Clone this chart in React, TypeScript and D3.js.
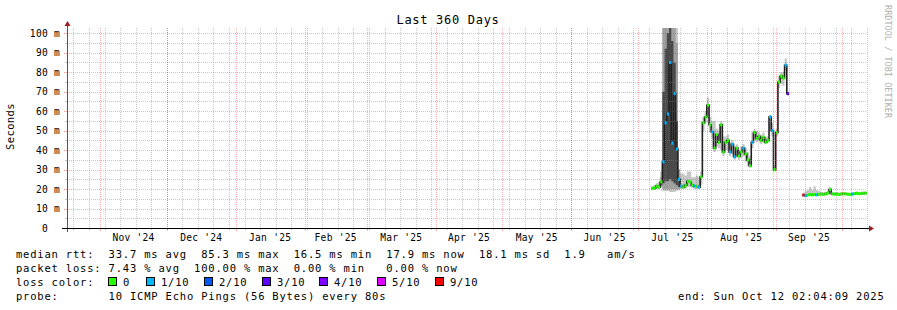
import React from 'react';
import * as d3 from 'd3';

// ---------- data ----------
const START = new Date(Date.UTC(2024, 9, 17, 2, 4, 9));
const END = new Date(Date.UTC(2025, 9, 12, 2, 4, 9));
const FIRST_DAY = '2025-07-07';
const LAST_DAY = '2025-10-11';

const yTicks = [0, 10, 20, 30, 40, 50, 60, 70, 80, 90, 100];
const yTickLabels = ['0', '10 m', '20 m', '30 m', '40 m', '50 m', '60 m', '70 m', '80 m', '90 m', '100 m'];
const yMinorTicks = [5, 15, 25, 35, 45, 55, 65, 75, 85, 95];
const monthLabels = ["Nov '24", "Dec '24", "Jan '25", "Feb '25", "Mar '25", "Apr '25", "May '25", "Jun '25", "Jul '25", "Aug '25", "Sep '25"];
const monthStarts = ['2024-11-01', '2024-12-01', '2025-01-01', '2025-02-01', '2025-03-01', '2025-04-01', '2025-05-01', '2025-06-01', '2025-07-01', '2025-08-01', '2025-09-01'];

// daily median rtt (ms), Jul 7 .. Oct 11 2025
const median: (number | null)[] = [
  // Jul 7-31
  20.4, 20.5, 21.5, 21, 23.7, 34, 54, 58.5, 85, 43.6, 69, 40.5, 25, 21.5, 21, 22, 24, 23.5, 22, 21.5, 21.5, 21, 26.3, 54, 57,
  // Aug
  63, 53, 49.4, 41, 48, 44, 53, 39, 44, 45, 39, 43, 36.6, 41, 37, 39, 41, 38, 35, 32, 44, 49, 46, 47, 45, 46.5, 44, 45, 57, 50, 30,
  // Sep
  49, 75, 78, 77, 83.6, 69, null, null, null, null, null, null,
  16.9, 16.6, 17, 17.2, 17, 17.2, 17, 17.3, 17.4, 17.2, 17.5, 18, 19.8, 17.5, 17.3, 17.5, 17.2, 17.4,
  // Oct 1-11
  17.6, 17.5, 17.3, 17.2, 17.4, 17.6, 17.8, 17.6, 17.7, 17.8, 17.9,
];
const smokeLo: (number | null)[] = [
  19.5, 19.5, 20, 20, 21, 19, 19, 19, 18.5, 18.5, 18.5, 19, 19.5, 20, 20, 20.5, 21, 21, 20.5, 20, 20, 20, 22, 50, 54,
  58, 49, 46, 39, 42, 41, 40, 37, 40, 40, 37, 38, 35, 37, 35, 36, 37, 34, 32, 31, 41, 45, 44, 45, 43, 44, 43, 44, 50, 47, 29,
  47, 72, 74, 73, 81, 68, null, null, null, null, null, null,
  16.5, 16.2, 16.5, 16.6, 16.5, 16.6, 16.5, 16.8, 16.8, 16.7, 17, 17.3, 17.5, 17, 16.8, 17, 16.7, 16.9,
  17.1, 17, 16.8, 16.7, 16.9, 17.1, 17.3, 17.1, 17.2, 17.3, 17.4,
];
const smokeHi: (number | null)[] = [
  21.5, 22, 23, 23.5, 29, 110, 110, 110, 110, 110, 110, 110, 30, 28, 28, 27, 29, 29, 26, 26, 27, 26, 29, 57, 60,
  67, 57, 55, 55, 51, 50, 55, 47, 47, 48, 44, 45, 42, 43, 40, 42, 43, 41, 39, 37, 49, 51, 50, 49, 48, 49, 47, 47, 58, 54, 32,
  51, 78, 80, 80, 87, 70, null, null, null, null, null, null,
  18, 19, 19.5, 21, 19.5, 21.5, 19.5, 19, 18.5, 18.5, 18.5, 19, 21, 18.5, 18.3, 18.5, 18.2, 18.4,
  18.5, 18.4, 18.2, 18.1, 18.3, 18.5, 18.7, 18.5, 18.6, 18.7, 18.8,
];
// loss index into lossLabels
const lossLevel: number[] = [
  0, 0, 0, 0, 0, 1, 1, 1, 1, 1, 1, 1, 1, 1, 0, 0, 0, 0, 0, 1, 0, 1, 0, 0, 0,
  0, 0, 1, 0, 0, 0, 0, 0, 0, 0, 1, 1, 1, 0, 0, 0, 1, 0, 0, 0, 1, 0, 0, 0, 0, 0, 0, 0, 1, 1, 0,
  0, 0, 0, 0, 1, 3, 0, 0, 0, 0, 0, 0,
  6, 1, 0, 0, 0, 0, 1, 0, 0, 0, 0, 0, 0, 0, 0, 0, 0, 0,
  0, 0, 0, 0, 1, 0, 0, 0, 0, 0, 0,
];

// heavy smoke during the July spike
const spikeDays = ['2025-07-11', '2025-07-12', '2025-07-13', '2025-07-14', '2025-07-15', '2025-07-16', '2025-07-17', '2025-07-18', '2025-07-19'];
const spikeMidLo = [21, 20, 20, 20, 20, 20, 20, 20, 20];
const spikeMidHi = [26, 110, 110, 110, 110, 110, 110, 95, 30];
const spikeCoreLo = [22, 23, 24, 24, 25, 24, 23, 22, 21];
const spikeCoreHi = [24, 70, 92, 100, 104, 96, 85, 55, 24];

const lossLabels = ['0', '1/10', '2/10', '3/10', '4/10', '5/10', '9/10'];
const lossColors = ['#26ff00', '#00b8ff', '#0059ff', '#5e00ff', '#7e00ff', '#dd00ff', '#ff0000'];

const legendRtt = 'median rtt:  33.7 ms avg  85.3 ms max  16.5 ms min  17.9 ms now  18.1 ms sd  1.9   am/s';
const legendLoss = 'packet loss: 7.43 % avg  100.00 % max  0.00 % min   0.00 % now';
const legendProbe = 'probe:       10 ICMP Echo Pings (56 Bytes) every 80s';
const legendEnd = 'end: Sun Oct 12 02:04:09 2025';

// ---------- chart ----------
const PL = 67, PR = 867, PT = 28, PB = 228;
const FONT = "'DejaVu Sans Mono', monospace";

const parse = (s: string) => new Date(s + 'T00:00:00Z');
const nb = (s: string) => s.replace(/ /g, '\u00A0');

type Seg = { t: Date; a: number; b: number };
function runs(dates: Date[], a: (number | null)[], b: (number | null)[]): Seg[][] {
  const out: Seg[][] = [];
  let cur: Seg[] = [];
  for (let i = 0; i < dates.length; i++) {
    const va = a[i], vb = b[i];
    if (va == null || vb == null) {
      if (cur.length) out.push(cur);
      cur = [];
      continue;
    }
    cur.push({ t: dates[i], a: va, b: vb });
    const na = a[i + 1];
    if (i + 1 >= dates.length || na == null) {
      cur.push({ t: d3.utcDay.offset(dates[i], 1), a: va, b: vb });
    }
  }
  if (cur.length) out.push(cur);
  return out;
}

export default function App() {
  const x = d3.scaleUtc().domain([START, END]).range([PL, PR]);
  const y = d3.scaleLinear().domain([0, 102.7]).range([PB, PT]);
  const days = d3.utcDay.range(parse(FIRST_DAY), d3.utcDay.offset(parse(LAST_DAY), 1));
  const sDays = spikeDays.map(parse);

  const area = d3.area<Seg>().x(d => x(d.t)).y0(d => y(d.a)).y1(d => y(d.b)).curve(d3.curveStepAfter);
  const line = d3.line<Seg>().x(d => x(d.t)).y(d => y(d.a)).curve(d3.curveStepAfter);

  const smokeRuns = runs(days, smokeLo, smokeHi);
  const midRuns = runs(sDays, spikeMidLo, spikeMidHi);
  const coreRuns = runs(sDays, spikeCoreLo, spikeCoreHi);
  const medRuns = runs(days, median, median);

  const months = d3.utcMonth.range(START, END);
  const weeks = d3.utcSunday.range(START, END);
  const px = (v: number) => Math.round(v) + 0.5;

  const majorGrid = 'rgba(255,0,0,0.32)';
  const minorGrid = 'rgba(128,128,128,0.45)';

  return (
    <svg width={897} height={310} style={{ position: 'absolute', left: 0, top: 0, background: '#fff' }} fontFamily={FONT}>
      <rect x={0} y={0} width={897} height={310} fill="#fff" />
      <defs>
        <clipPath id="plot">
          <rect x={PL} y={PT} width={PR - PL} height={PB - PT} />
        </clipPath>
      </defs>

      {/* data */}
      <g clipPath="url(#plot)">
        {smokeRuns.map((r, i) => <path key={'s' + i} d={area(r) || ''} fill="#c6c6c6" />)}
        {midRuns.map((r, i) => <path key={'m' + i} d={area(r) || ''} fill="#a0a0a0" />)}
        {coreRuns.map((r, i) => <path key={'c' + i} d={area(r) || ''} fill="#4a4a4a" />)}
        {medRuns.map((r, i) => <path key={'l' + i} d={line(r) || ''} fill="none" stroke="#202020" strokeWidth={1.6} />)}
        {days.map((d, i) => {
          const m = median[i];
          if (m == null) return null;
          const x0 = x(d);
          const x1 = x(d3.utcDay.offset(d, 1));
          return <rect key={'k' + i} x={x0} y={y(m) - 1.5} width={x1 - x0} height={3} fill={lossColors[lossLevel[i]]} />;
        })}
      </g>

      {/* grid */}
      <g strokeDasharray="1,1" strokeWidth={1}>
        {yMinorTicks.map(v => (
          <line key={'hm' + v} x1={PL} x2={PR} y1={px(y(v))} y2={px(y(v))} stroke={minorGrid} />
        ))}
        {weeks.map(w => (
          <line key={'vw' + w.getTime()} x1={px(x(w))} x2={px(x(w))} y1={PT} y2={PB} stroke={minorGrid} />
        ))}
        {yTicks.filter(v => v > 0).map(v => (
          <line key={'hM' + v} x1={PL} x2={PR} y1={px(y(v))} y2={px(y(v))} stroke={majorGrid} />
        ))}
        {months.map(m => (
          <line key={'vm' + m.getTime()} x1={px(x(m))} x2={px(x(m))} y1={PT} y2={PB} stroke={majorGrid} />
        ))}
      </g>
      {/* small ticks */}
      <g strokeWidth={1}>
        {yMinorTicks.map(v => (
          <line key={'tm' + v} x1={PL - 2} x2={PL} y1={px(y(v))} y2={px(y(v))} stroke={minorGrid} />
        ))}
        {yTicks.filter(v => v > 0).map(v => (
          <line key={'tM' + v} x1={PL - 3} x2={PL} y1={px(y(v))} y2={px(y(v))} stroke={majorGrid} />
        ))}
        {weeks.map(w => (
          <line key={'tw' + w.getTime()} x1={px(x(w))} x2={px(x(w))} y1={PB} y2={PB + 2} stroke={minorGrid} />
        ))}
        {months.map(m => (
          <line key={'tmo' + m.getTime()} x1={px(x(m))} x2={px(x(m))} y1={PB} y2={PB + 3} stroke={majorGrid} />
        ))}
      </g>

      {/* axes */}
      <line x1={PL + 0.5} x2={PL + 0.5} y1={PB + 4} y2={PT - 4} stroke="#555" strokeWidth={1} />
      <line x1={PL - 5} x2={PR + 3} y1={PB + 0.5} y2={PB + 0.5} stroke="#000" strokeWidth={1} />
      <polygon points={`${PL - 2.5},${PT - 2} ${PL + 3.5},${PT - 2} ${PL + 0.5},${PT - 7}`} fill="#9b1c1c" />
      <polygon points={`${PR + 2},${PB - 2.5} ${PR + 2},${PB + 3.5} ${PR + 7},${PB + 0.5}`} fill="#9b1c1c" />

      {/* y labels */}
      <g fontSize={9.6} fill="#000" style={{ letterSpacing: '0.25px' }}>
        {yTicks.map((v, i) => (
          <text key={'yl' + v} x={v === 0 ? 48 : 60} y={y(v) + 3.5} textAnchor="end">{nb(yTickLabels[i])}</text>
        ))}
      </g>
      {/* x labels */}
      <g fontSize={9.6} fill="#000" style={{ letterSpacing: '0.25px' }}>
        {monthStarts.map((s, i) => {
          const a = parse(s);
          const b = d3.utcMonth.offset(a, 1);
          const cx = (x(a) + x(b)) / 2;
          return <text key={'xl' + s} x={cx} y={241} textAnchor="middle">{nb(monthLabels[i])}</text>;
        })}
      </g>

      {/* title and side texts */}
      <text x={448} y={24} textAnchor="middle" fontSize={12} style={{ letterSpacing: '0.7px' }}>{nb('Last 360 Days')}</text>
      <text transform="translate(14,126.5) rotate(-90)" textAnchor="middle" fontSize={10.5} style={{ letterSpacing: '0.4px' }}>Seconds</text>
      <text transform="translate(884.5,5) rotate(90)" fontSize={8.4} fill="#b0b0b0" style={{ letterSpacing: '0.1px' }}>{nb('RRDTOOL / TOBI OETIKER')}</text>

      {/* legend */}
      <g fontSize={10.5} fill="#000" style={{ letterSpacing: '0.8px' }}>
        <text x={16} y={258}>{nb(legendRtt)}</text>
        <text x={16} y={272}>{nb(legendLoss)}</text>
        <text x={16} y={286}>{nb('loss color:')}</text>
        {lossLabels.map((l, i) => {
          const bx = i === 0 ? 108 : 146 + (i - 1) * 57.8;
          return (
            <g key={'lg' + l}>
              <rect x={Math.round(bx) + 0.5} y={277.5} width={8} height={8} fill={lossColors[i]} stroke="#000" strokeWidth={1} />
              <text x={Math.round(bx) + 15} y={286}>{l}</text>
            </g>
          );
        })}
        <text x={16} y={300}>{nb(legendProbe)}</text>
        <text x={678} y={300}>{nb(legendEnd)}</text>
      </g>
    </svg>
  );
}
